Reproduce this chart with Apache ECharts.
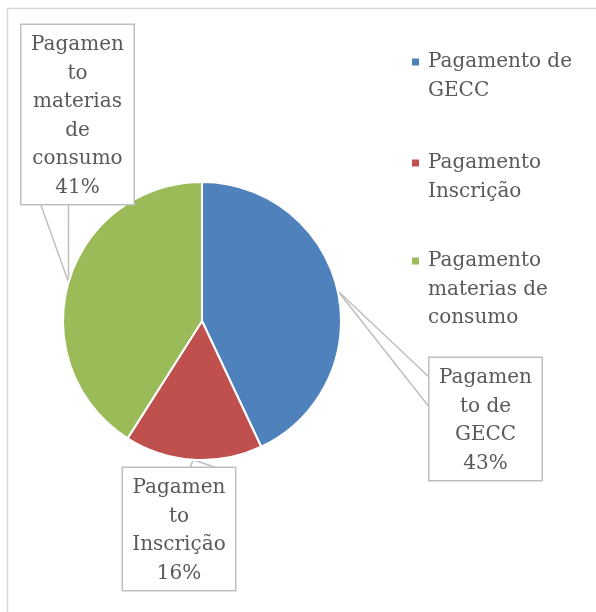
<!DOCTYPE html>
<html>
<head>
<meta charset="utf-8">
<script src="https://cdn.jsdelivr.net/npm/echarts@6/dist/echarts.min.js"></script>
<style>
html,body{margin:0;padding:0;background:#fff;}
#chart{width:596px;height:612px;}
</style>
</head>
<body>
<div id="chart"></div>
<script>
const categories = ['Pagamento de GECC', 'Pagamento Inscrição', 'Pagamento materias de consumo'];
const values = [43, 16, 41];
const legendLabels = ['Pagamento de\nGECC', 'Pagamento\nInscrição', 'Pagamento\nmaterias de\nconsumo'];
const sliceLabels = ['Pagamen\nto de\nGECC', 'Pagamen\nto\nInscrição', 'Pagamen\nto\nmaterias\nde\nconsumo'];
const colors = ['#4F81BD', '#C0504D', '#9BBB59'];

// label box layout: [center x, top y]
const labelBoxes = [[485.5, 358], [179, 468], [77.5, 25]];
// callout wedge base points on the box edge (relative to box center x / top y)
const wedgeBases = [
  [[-55.5, 20], [-55.5, 50]],
  [[11, 0], [38, 0]],
  [[-37, 179], [-9, 179]]
];
// legend first-line y
const legendY = [62, 163, 261];
const LH = 28.5;
const ICON = 7;

const chart = echarts.init(document.getElementById('chart'), null, {renderer: 'canvas'});

const legends = categories.map((name, i) => {
  const n = legendLabels[i].split('\n').length;
  const h = (n - 1) * LH + ICON;
  return {
    orient: 'vertical',
    left: 412,
    top: legendY[i] - LH / 2,
    padding: 0,
    selectedMode: false,
    symbolKeepAspect: false,
    itemWidth: ICON,
    itemHeight: h,
    itemStyle: {borderWidth: 0},
    data: [{
      name: name,
      icon: 'path://M0,0L' + ICON + ',0L' + ICON + ',' + ICON + 'L0,' + ICON + 'ZM0,' + h + 'L0.01,' + h
    }],
    formatter: function (nm) { return legendLabels[categories.indexOf(nm)]; },
    textStyle: {
      color: '#595959',
      fontFamily: 'DejaVu Serif',
      fontSize: 20,
      lineHeight: LH,
      padding: [0, 0, 0, 4]
    }
  };
});

chart.setOption({
  animation: false,
  color: colors,
  graphic: [{
    type: 'rect',
    z: -10,
    shape: {x: 7.5, y: 8.5, width: 700, height: 700},
    style: {fill: 'none', stroke: '#d9d9d9', lineWidth: 1.5}
  }],
  legend: legends,
  series: [{
    type: 'pie',
    center: [202, 321],
    radius: 139,
    startAngle: 90,
    clockwise: true,
    avoidLabelOverlap: false,
    itemStyle: {borderColor: '#ffffff', borderWidth: 2},
    emphasis: {disabled: true},
    label: {
      show: true,
      position: 'outside',
      formatter: function (p) { return sliceLabels[p.dataIndex] + '\n' + Math.round(p.percent) + '%'; },
      color: '#595959',
      fontFamily: 'DejaVu Serif',
      fontSize: 20,
      lineHeight: LH,
      align: 'center',
      backgroundColor: '#ffffff',
      borderColor: '#bfbfbf',
      borderWidth: 1.5,
      padding: [6, 9, 2, 9],
      width: 94,
      overflow: 'none'
    },
    labelLine: {
      show: true,
      length: 10,
      length2: 10,
      smooth: false,
      lineStyle: {color: '#bfbfbf', width: 1.5}
    },
    labelLayout: function (p) {
      const b = labelBoxes[p.dataIndex];
      const w = wedgeBases[p.dataIndex];
      const tip = p.labelLinePoints ? p.labelLinePoints[0] : null;
      const out = {x: b[0], y: b[1], align: 'center', verticalAlign: 'top'};
      if (tip) {
        out.labelLinePoints = [
          [b[0] + w[0][0], b[1] + w[0][1]],
          [tip[0], tip[1]],
          [b[0] + w[1][0], b[1] + w[1][1]]
        ];
      }
      return out;
    },
    data: categories.map((c, i) => ({name: c, value: values[i]}))
  }]
});
</script>
</body>
</html>
